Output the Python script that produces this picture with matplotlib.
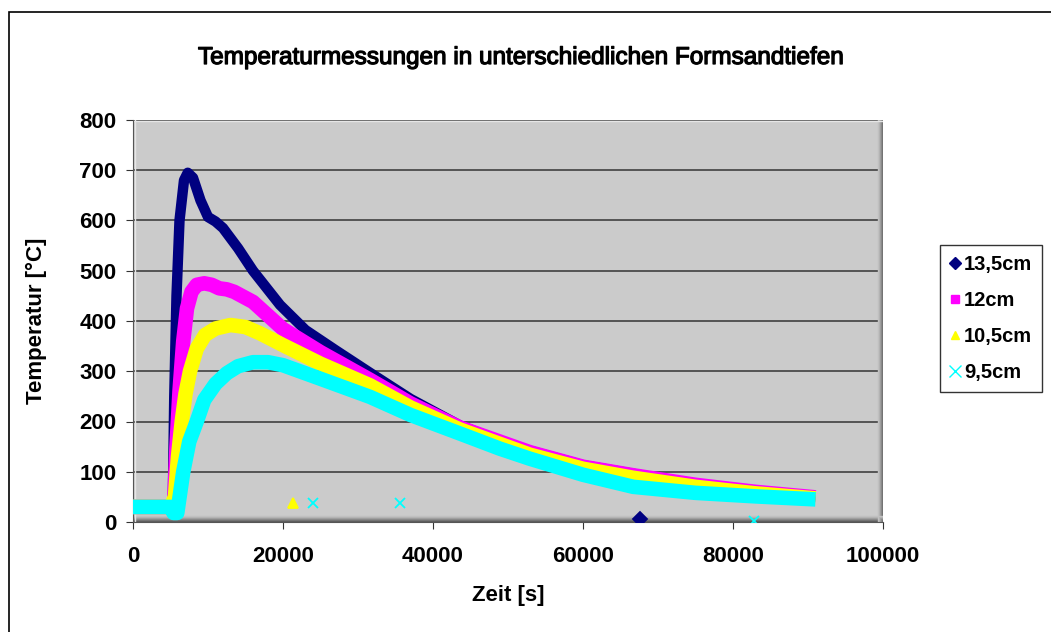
import matplotlib.pyplot as plt
import matplotlib.patches as mpatches
import matplotlib.patheffects as pe
from matplotlib.lines import Line2D
from matplotlib import font_manager
import numpy as np
from matplotlib import rcParams
rcParams['font.family'] = 'sans-serif'
rcParams['font.sans-serif'] = ['Liberation Sans', 'DejaVu Sans']

# Messwerte (Zeit in s, Temperatur in °C)
t_135 = [0, 5000, 5300, 5500, 5800, 6200, 6800, 7300, 8000, 9000, 10000, 11000, 12000,
         14000, 16000, 19600, 23000, 27000, 31600, 37000, 43600, 48900, 52900, 60000,
         66700, 75000, 83000, 91000]
T_135 = [30, 30, 35, 250, 450, 600, 680, 695, 685, 640, 607, 598, 585,
         545, 500, 432, 382, 342, 297, 245, 192, 162, 142, 113,
         96, 75, 60, 50]

t_12 = [0, 5000, 5500, 5800, 6200, 6700, 7200, 7800, 8500, 9500, 10500, 11500, 12500, 13500,
        16000, 20000, 25000, 31600, 37000, 43600, 52900, 60000, 66700, 75000, 83000, 91000]
T_12 = [30, 30, 40, 150, 260, 360, 425, 458, 472, 475, 472, 465, 463, 458,
        438, 384, 338, 283, 236, 188, 139, 110, 93, 74, 60, 49]

t_105 = [0, 5000, 5600, 6000, 6500, 7000, 7600, 8500, 9600, 11000, 13000, 15000, 17000, 20000,
         25000, 31600, 37000, 43600, 52900, 60000, 66700, 75000, 83000, 91000]
T_105 = [30, 30, 50, 130, 200, 255, 300, 345, 372, 385, 392, 388, 375, 352,
         315, 272, 228, 184, 134, 106, 88, 70, 57, 47]

t_95 = [0, 5000, 5400, 5900, 6700, 7500, 8500, 9500, 11000, 12500, 14000, 16000, 18000,
        20000, 25000, 31600, 37000, 43600, 48900, 52900, 60000, 66700, 75000, 83000, 91000]
T_95 = [30, 30, 18, 18, 100, 160, 200, 243, 275, 296, 310, 318, 318,
        312, 285, 249, 213, 176, 146, 126, 94, 70, 58, 51, 45]

# einzelne Ausreisser
out_x = {'13,5cm': [67600], '10,5cm': [21300], '9,5cm': [24000, 35600, 82800]}
out_y = {'13,5cm': [6], '10,5cm': [37], '9,5cm': [37, 37, 2]}

labels = ['13,5cm', '12cm', '10,5cm', '9,5cm']
colors = ['#000080', '#FF00FF', '#FFFF00', '#00FFFF']
markers = ['D', 's', '^', 'x']
widths = [7.5, 10.5, 10.5, 10.5]
series = [(t_135, T_135), (t_12, T_12), (t_105, T_105), (t_95, T_95)]

have_narrow = any(f.name == 'Liberation Sans Narrow' for f in font_manager.fontManager.ttflist)

fig = plt.figure(figsize=(10.51, 6.32), dpi=100)
fig.patches.append(mpatches.Rectangle((9/1051, -0.1), 1.2, 1 - 12/632 + 0.1,
                                      transform=fig.transFigure, fill=False,
                                      edgecolor='#000000', linewidth=1.2))

ax = fig.add_axes([133/1051, 1 - 522/632, 750/1051, 402/632])
ax.set_facecolor('#CBCBCB')

for (t, T), c, lw in zip(series, colors, widths):
    ax.plot(t, T, color=c, linewidth=lw, solid_capstyle='butt', solid_joinstyle='round', zorder=3)

for lab, c, m in zip(labels, colors, markers):
    if lab in out_x:
        ax.plot(out_x[lab], out_y[lab], linestyle='none', marker=m, color=c,
                markersize=7, markeredgewidth=1.3, zorder=3)

# Schatten am rechten und unteren Rand, Lichtkante links/oben
shade = ['#5a5a5a', '#707070', '#868686', '#9c9c9c', '#b0b0b0', '#c0c0c0']
for i, g in enumerate(shade):
    ax.plot([1 - 0.0007 - i*0.0013]*2, [0, 1], transform=ax.transAxes, color=g, lw=1.0, zorder=2)
    ax.plot([0, 1], [0.0013 + i*0.0025]*2, transform=ax.transAxes, color=g, lw=1.0, zorder=2)
ax.plot([0.002]*2, [0, 1], transform=ax.transAxes, color='#e6e6e6', lw=1.0, zorder=2)
ax.plot([0, 1], [0.998]*2, transform=ax.transAxes, color='#e6e6e6', lw=1.0, zorder=2)

ax.set_xlim(0, 100000)
ax.set_ylim(0, 800)
ax.set_xticks(np.arange(0, 100001, 20000))
ax.set_yticks(np.arange(0, 801, 100))
ax.yaxis.grid(True, color='#404040', linewidth=1.2)
ax.set_axisbelow(True)
for s in ['top', 'right']:
    ax.spines[s].set_visible(False)
ax.spines['left'].set_color('#555555')
ax.spines['bottom'].set_color('#555555')
ax.tick_params(direction='out', length=5, color='#333333', labelsize=16)
ax.tick_params(axis='x', pad=12)
ax.tick_params(axis='y', pad=7)
for lbl in ax.get_xticklabels() + ax.get_yticklabels():
    lbl.set_fontweight('bold')

ax.set_xlabel('Zeit [s]', fontsize=16, fontweight='bold', labelpad=13)
ax.set_ylabel('Temperatur [°C]', fontsize=16, fontweight='bold', labelpad=23)

if have_narrow:
    fig.text(520/1051, 1 - 58/632, 'Temperaturmessungen in unterschiedlichen Formsandtiefen',
             ha='center', va='center', fontsize=17.5, fontweight='bold',
             family=['Liberation Sans Narrow', 'Liberation Sans'])
else:
    fig.text(520/1051, 1 - 58/632, 'Temperaturmessungen in unterschiedlichen Formsandtiefen',
             ha='center', va='center', fontsize=17.5,
             path_effects=[pe.withStroke(linewidth=0.9, foreground='black')])

handles = [Line2D([], [], linestyle='none', marker=m, color=c, markersize=6 if m != 'x' else 8,
                  markeredgewidth=1.0) for m, c in zip(markers, colors)]
leg = fig.legend(handles, labels, loc='upper left', bbox_to_anchor=(940/1051, 1 - 245/632),
                 frameon=True, fancybox=False, edgecolor='#000000', handlelength=0.5,
                 handletextpad=0.2, borderpad=0.5, borderaxespad=0, labelspacing=0.85,
                 prop={'weight': 'bold', 'size': 14.5})
leg.get_frame().set_linewidth(1.0)

plt.savefig('out.png', dpi=100)
